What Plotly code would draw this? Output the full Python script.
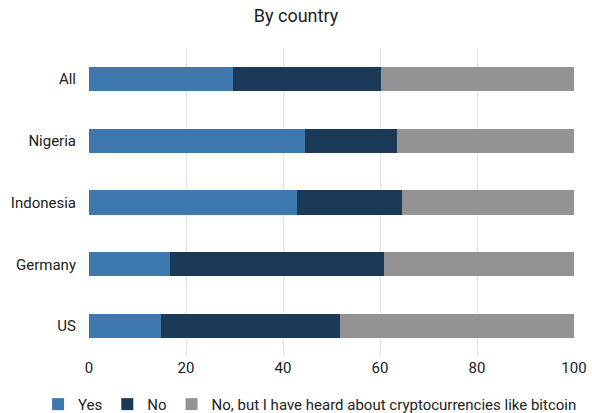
import plotly.graph_objects as go

countries = ["All", "Nigeria", "Indonesia", "Germany", "US"]
yes = [29.6, 44.6, 42.9, 16.6, 14.8]
no = [30.6, 19.0, 21.6, 44.2, 36.9]
heard = [39.8, 36.4, 35.5, 39.2, 48.3]

series_names = ["Yes", "No", "No, but I have heard about cryptocurrencies like bitcoin"]
colors = ["#3d78ae", "#1b3a57", "#939396"]

fig = go.Figure()
for name, vals, c in zip(series_names, [yes, no, heard], colors):
    fig.add_trace(go.Bar(y=countries, x=vals, name=name, orientation="h",
                         marker=dict(color=c, line=dict(width=0))))

fig.update_layout(
    barmode="stack",
    width=592, height=413,
    margin=dict(l=89, r=18, t=48, b=56, autoexpand=False),
    paper_bgcolor="white", plot_bgcolor="white",
    font=dict(family="Roboto", size=15, color="#222222"),
    title=dict(text="By country", x=0.5, xanchor="center", y=0.962, yanchor="middle",
               font=dict(size=18, color="#222222")),
    bargap=0.61,
    legend=dict(orientation="h", x=-0.105, xanchor="left", y=-0.1, yanchor="top",
                bgcolor="rgba(0,0,0,0)",
                font=dict(size=15, color="#222222"), itemwidth=30, traceorder="normal",
                tracegroupgap=0),
    xaxis=dict(range=[0, 100], dtick=20, showgrid=True, gridcolor="#e3e3e3", gridwidth=1,
               zeroline=False, showline=False, ticks="", tickfont=dict(size=15)),
    yaxis=dict(categoryorder="array", categoryarray=countries, autorange="reversed",
               showgrid=False, zeroline=False, ticks="", ticklabelstandoff=12,
               tickfont=dict(size=15)),
)

fig.write_html("out.html")
